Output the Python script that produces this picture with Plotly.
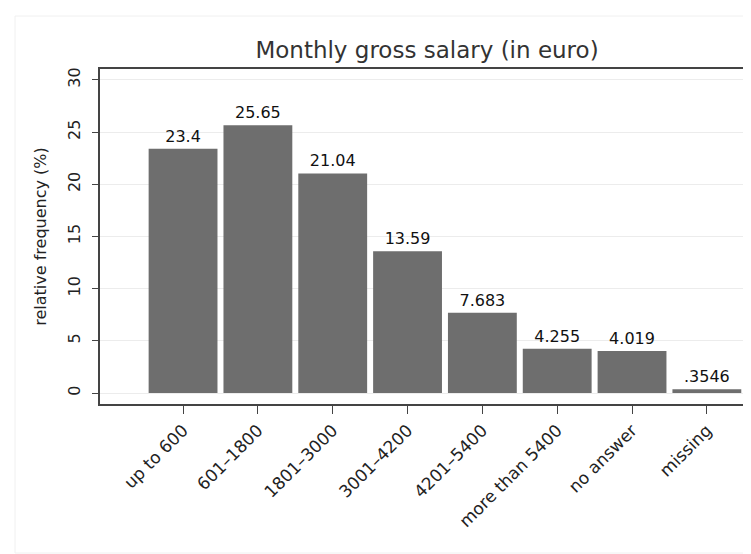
import plotly.graph_objects as go

categories = ["up to 600", "601\u20131800", "1801\u20133000", "3001\u20134200",
              "4201\u20135400", "more than 5400", "no answer", "missing"]
values = [23.4, 25.65, 21.04, 13.59, 7.683, 4.255, 4.019, 0.3546]
y_ticks = [0, 5, 10, 15, 20, 25, 30]
title_text = "Monthly gross salary (in euro)"
y_title = "relative frequency (%)"


def stata_fmt(v):
    s = f"{v:.4g}"
    if s.startswith("0."):
        s = s[1:]
    return s


labels = [stata_fmt(v) for v in values]
FONT = "DejaVu Sans"

fig = go.Figure()
fig.add_trace(go.Bar(
    x=list(range(len(categories))),
    y=values,
    text=labels,
    textposition="outside",
    outsidetextfont=dict(family=FONT, size=16, color="#111111"),
    constraintext="none",
    cliponaxis=False,
    marker=dict(color="#6e6e6e", line=dict(width=0)),
    width=0.92,
    hoverinfo="skip",
))

fig.update_layout(
    width=751, height=554,
    paper_bgcolor="white",
    plot_bgcolor="white",
    margin=dict(l=92, r=5, t=61, b=158, autoexpand=False),
    showlegend=False,
    title=dict(text=title_text, x=0.5, xanchor="center", xref="paper",
               y=0.925, yanchor="middle", yref="container",
               font=dict(family=FONT, size=23, color="#333333")),
    font=dict(family=FONT),
    shapes=[dict(type="rect", xref="paper", yref="paper",
                 x0=-85 / 654, x1=1.02, y0=-149 / 335, y1=1 + 53 / 335,
                 line=dict(color="#f0f0f0", width=1), layer="below")],
)

fig.update_xaxes(
    range=[-1.11, 7.63],
    tickvals=list(range(len(categories))),
    ticktext=categories,
    tickangle=-45,
    tickfont=dict(family=FONT, size=17, color="#222222"),
    ticks="outside", ticklen=8, tickwidth=1, tickcolor="#444444",
    showline=True, linecolor="#444444", linewidth=1.5, mirror=True,
    showgrid=False, zeroline=False, automargin=False,
)

fig.update_yaxes(
    range=[-1.05, 31.05],
    tickvals=y_ticks,
    tickangle=-90,
    tickfont=dict(family=FONT, size=16, color="#222222"),
    ticks="outside", ticklen=6, tickwidth=1, tickcolor="#444444",
    ticklabelstandoff=6,
    showline=True, linecolor="#444444", linewidth=1.5, mirror=True,
    showgrid=True, gridcolor="#ececec", gridwidth=1,
    zeroline=False, automargin=False,
    title=dict(text=y_title, font=dict(family=FONT, size=16, color="#222222"),
               standoff=14),
)

fig.write_html("out.html")
